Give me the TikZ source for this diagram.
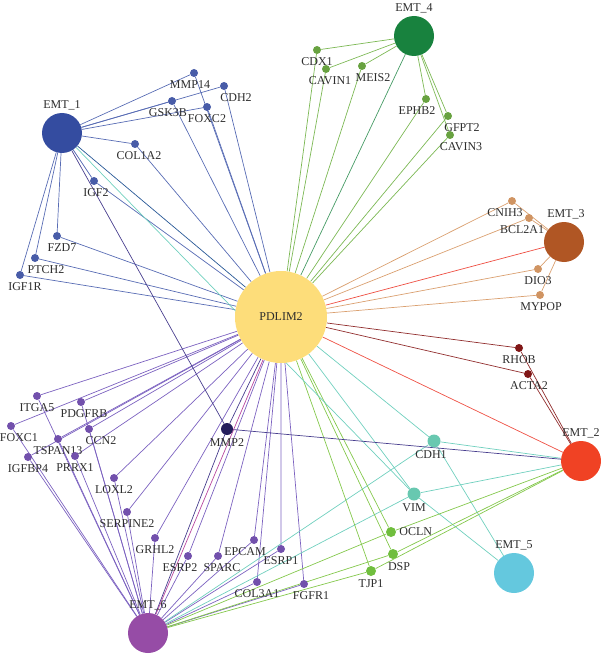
\documentclass[tikz,border=0pt]{standalone}
\usepackage{fontspec}
\setmainfont{Liberation Serif}
\usetikzlibrary{backgrounds}
\definecolor{PdlimYellow}{RGB}{253,221,122}
\definecolor{LabelGray}{RGB}{45,45,45}
\definecolor{EmtBlue}{RGB}{52,76,160}
\definecolor{GeneBlue}{RGB}{72,92,168}
\definecolor{EdgeBlue}{RGB}{88,108,180}
\definecolor{RoyalLink}{RGB}{40,88,150}
\definecolor{EmtGreen}{RGB}{24,130,62}
\definecolor{GeneGreen}{RGB}{104,162,64}
\definecolor{EdgeGreen}{RGB}{124,184,84}
\definecolor{EmtBrown}{RGB}{176,86,36}
\definecolor{GeneTan}{RGB}{208,148,98}
\definecolor{EdgeTan}{RGB}{218,160,112}
\definecolor{GeneMaroon}{RGB}{128,22,22}
\definecolor{EdgeMaroon}{RGB}{145,45,45}
\definecolor{EmtRed}{RGB}{240,66,36}
\definecolor{EdgeRed}{RGB}{238,78,66}
\definecolor{EmtCyan}{RGB}{100,200,222}
\definecolor{GeneTeal}{RGB}{104,200,176}
\definecolor{EdgeTeal}{RGB}{112,208,190}
\definecolor{GeneLime}{RGB}{112,190,62}
\definecolor{EdgeLime}{RGB}{132,200,76}
\definecolor{EmtPurple}{RGB}{150,76,166}
\definecolor{GenePurple}{RGB}{114,80,172}
\definecolor{EdgePurple}{RGB}{124,98,192}
\definecolor{EdgeMagenta}{RGB}{184,72,160}
\definecolor{GeneNavy}{RGB}{36,30,92}
\definecolor{EdgeNavy}{RGB}{72,62,142}

\begin{document}
\begin{tikzpicture}[x=1pt,y=-1pt,
    hub/.style={circle,minimum size=40pt,inner sep=0pt},
    gene/.style={circle,minimum size=8pt,inner sep=0pt},
    link/.style={line width=0.7pt},
    every label/.style={font=\fontsize{12}{14}\selectfont,text=LabelGray,inner sep=1pt},
    label distance=2pt]
  \useasboundingbox (0,0) rectangle (600,655);

  % hubs
  \node[hub,fill=PdlimYellow,minimum size=92pt,text=LabelGray,font=\fontsize{12}{14}\selectfont] (pdlim2) at (281,317) {PDLIM2};
  \node[hub,fill=EmtBlue,label=above:EMT\_1] (emt1) at (62,133) {};
  \node[hub,fill=EmtGreen,label=above:EMT\_4] (emt4) at (414,36) {};
  \node[hub,fill=EmtBrown,label={[xshift=2pt]above:EMT\_3}] (emt3) at (564,242) {};
  \node[hub,fill=EmtRed,label=above:EMT\_2] (emt2) at (581,461) {};
  \node[hub,fill=EmtCyan,label=above:EMT\_5] (emt5) at (514,573) {};
  \node[hub,fill=EmtPurple,label=above:EMT\_6] (emt6) at (148,633) {};

  % EMT_1 genes
  \node[gene,fill=GeneBlue,label={[xshift=-4pt]below:MMP14}] (mmp14) at (194,73) {};
  \node[gene,fill=GeneBlue,label={[xshift=12pt]below:CDH2}] (cdh2) at (224,86) {};
  \node[gene,fill=GeneBlue,label={[xshift=-4pt]below:GSK3B}] (gsk3b) at (172,101) {};
  \node[gene,fill=GeneBlue,label=below:FOXC2] (foxc2) at (207,107) {};
  \node[gene,fill=GeneBlue,label={[xshift=4pt]below:COL1A2}] (col1a2) at (135,144) {};
  \node[gene,fill=GeneBlue,label={[xshift=2pt]below:IGF2}] (igf2) at (94,181) {};
  \node[gene,fill=GeneBlue,label={[xshift=5pt]below:FZD7}] (fzd7) at (57,236) {};
  \node[gene,fill=GeneBlue,label={[xshift=11pt]below:PTCH2}] (ptch2) at (35,258) {};
  \node[gene,fill=GeneBlue,label={[xshift=5pt]below:IGF1R}] (igf1r) at (20,275) {};

  % EMT_4 genes
  \node[gene,fill=GeneGreen,label=below:CDX1] (cdx1) at (317,50) {};
  \node[gene,fill=GeneGreen,label={[xshift=4pt]below:CAVIN1}] (cavin1) at (326,69) {};
  \node[gene,fill=GeneGreen,label={[xshift=11pt]below:MEIS2}] (meis2) at (362,66) {};
  \node[gene,fill=GeneGreen,label={[xshift=-9pt]below:EPHB2}] (ephb2) at (426,99) {};
  \node[gene,fill=GeneGreen,label={[xshift=14pt]below:GFPT2}] (gfpt2) at (448,116) {};
  \node[gene,fill=GeneGreen,label={[xshift=11pt]below:CAVIN3}] (cavin3) at (450,135) {};

  % EMT_3 genes
  \node[gene,fill=GeneTan,label={[xshift=-7pt]below:CNIH3}] (cnih3) at (512,201) {};
  \node[gene,fill=GeneTan,label={[xshift=-7pt]below:BCL2A1}] (bcl2a1) at (529,218) {};
  \node[gene,fill=GeneTan,label=below:DIO3] (dio3) at (538,269) {};
  \node[gene,fill=GeneTan,label={[xshift=1pt]below:MYPOP}] (mypop) at (540,295) {};

  % EMT_2 and shared genes
  \node[gene,fill=GeneMaroon,label=below:RHOB] (rhob) at (519,348) {};
  \node[gene,fill=GeneMaroon,label={[xshift=1pt]below:ACTA2}] (acta2) at (528,374) {};
  \node[gene,fill=GeneTeal,minimum size=13pt,label={[xshift=-3pt]below:CDH1}] (cdh1) at (434,441) {};
  \node[gene,fill=GeneTeal,minimum size=13pt,label=below:VIM] (vim) at (414,494) {};
  \node[gene,fill=GeneLime,minimum size=10pt,label=right:OCLN] (ocln) at (391,532) {};
  \node[gene,fill=GeneLime,minimum size=10pt,label={[xshift=6pt]below:DSP}] (dsp) at (393,554) {};
  \node[gene,fill=GeneLime,minimum size=10pt,label=below:TJP1] (tjp1) at (371,571) {};
  \node[gene,fill=GeneNavy,minimum size=12pt,label=below:MMP2] (mmp2) at (227,429) {};

  % EMT_6 genes
  \node[gene,fill=GenePurple,label=below:ITGA5] (itga5) at (37,396) {};
  \node[gene,fill=GenePurple,label={[xshift=3pt]below:PDGFRB}] (pdgfrb) at (81,402) {};
  \node[gene,fill=GenePurple,label={[xshift=8pt]below:FOXC1}] (foxc1) at (11,426) {};
  \node[gene,fill=GenePurple,label={[xshift=12pt]below:CCN2}] (ccn2) at (89,429) {};
  \node[gene,fill=GenePurple,label=below:TSPAN13] (tspan13) at (58,439) {};
  \node[gene,fill=GenePurple,label=below:IGFBP4] (igfbp4) at (28,457) {};
  \node[gene,fill=GenePurple,label=below:PRRX1] (prrx1) at (75,456) {};
  \node[gene,fill=GenePurple,label=below:LOXL2] (loxl2) at (114,478) {};
  \node[gene,fill=GenePurple,label=below:SERPINE2] (serpine2) at (127,512) {};
  \node[gene,fill=GenePurple,label=below:GRHL2] (grhl2) at (155,538) {};
  \node[gene,fill=GenePurple,label={[xshift=-8pt]below:ESRP2}] (esrp2) at (188,556) {};
  \node[gene,fill=GenePurple,label={[xshift=4pt]below:SPARC}] (sparc) at (218,556) {};
  \node[gene,fill=GenePurple,label={[xshift=-9pt]below:EPCAM}] (epcam) at (254,540) {};
  \node[gene,fill=GenePurple,label=below:ESRP1] (esrp1) at (281,549) {};
  \node[gene,fill=GenePurple,label=below:COL3A1] (col3a1) at (257,582) {};
  \node[gene,fill=GenePurple,label={[xshift=7pt]below:FGFR1}] (fgfr1) at (304,584) {};

  % connectors
  \begin{scope}[on background layer]
    \foreach \g in {mmp14,cdh2,gsk3b,foxc2,col1a2,igf2,fzd7,ptch2,igf1r}
      \draw[link,EdgeBlue] (emt1) -- (\g) -- (pdlim2);
    \foreach \g in {cdx1,cavin1,meis2,ephb2,gfpt2,cavin3}
      \draw[link,EdgeGreen] (emt4) -- (\g) -- (pdlim2);
    \foreach \g in {cnih3,bcl2a1,dio3,mypop}
      \draw[link,EdgeTan] (emt3) -- (\g) -- (pdlim2);
    \foreach \g in {rhob,acta2}
      \draw[link,EdgeMaroon] (emt2) -- (\g) -- (pdlim2);
    \foreach \g in {itga5,pdgfrb,foxc1,ccn2,tspan13,igfbp4,prrx1,loxl2,serpine2,grhl2,esrp2,sparc,epcam,esrp1,col3a1,fgfr1}
      \draw[link,EdgePurple] (emt6) -- (\g) -- (pdlim2);
    \foreach \g in {cdh1,vim}
      \draw[link,EdgeTeal] (pdlim2) -- (\g) -- (emt2) (emt5) -- (\g) -- (emt6);
    \foreach \g in {ocln,dsp,tjp1}
      \draw[link,EdgeLime] (pdlim2) -- (\g) -- (emt2) (\g) -- (emt6);
    \draw[link,EdgeTeal] (emt1) -- (vim);
    \draw[link,EdgeNavy] (emt1) -- (mmp2) -- (emt2) (pdlim2) -- (mmp2) -- (emt6);
    \draw[link,RoyalLink] (emt1) -- (pdlim2);
    \draw[link,EmtGreen!80] (emt4) -- (pdlim2);
    \draw[link,EdgeRed] (emt3) -- (pdlim2) (emt2) -- (pdlim2);
    \draw[link,EdgeMagenta] (emt6) -- (pdlim2);
  \end{scope}
\end{tikzpicture}
\end{document}
